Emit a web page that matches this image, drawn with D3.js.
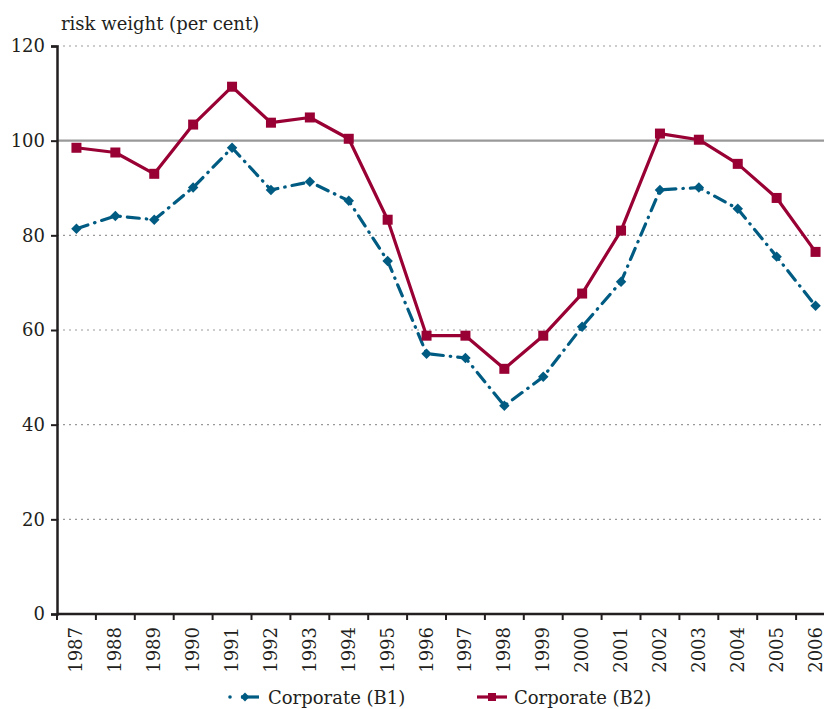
<!DOCTYPE html>
<html>
<head>
<meta charset="utf-8">
<script src="https://cdn.jsdelivr.net/npm/d3@7"></script>
<style>
  body { margin: 0; background: #fff; }
  svg { display: block; }
</style>
</head>
<body>
<svg width="824" height="709"></svg>
<script>
// data
const years = ["1987","1988","1989","1990","1991","1992","1993","1994","1995","1996",
               "1997","1998","1999","2000","2001","2002","2003","2004","2005","2006"];
const corporateB1 = [81.4, 84.1, 83.3, 90.1, 98.5, 89.6, 91.3, 87.3, 74.6, 55.0,
                     54.1, 44.0, 50.1, 60.7, 70.2, 89.6, 90.1, 85.6, 75.5, 65.1];
const corporateB2 = [98.5, 97.5, 93.0, 103.4, 111.4, 103.8, 104.9, 100.4, 83.3, 58.8,
                     58.8, 51.8, 58.8, 67.7, 81.0, 101.5, 100.2, 95.1, 87.9, 76.5];
const yTicks = [0, 20, 40, 60, 80, 100, 120];
const seriesNames = ["Corporate (B1)", "Corporate (B2)"];

const serif = "DejaVu Serif";
const fs = 18;
const svg = d3.select("svg");
const margin = {top: 46, left: 57};
const plotW = 778, plotH = 568;
const g = svg.append("g").attr("transform", "translate(" + margin.left + "," + margin.top + ")");

const x = d3.scaleBand().domain(years).range([0, plotW]);
const y = d3.scaleLinear().domain([0, 120]).range([plotH, 0]);
const cx = d => x(d) + x.bandwidth() / 2;

const ink = "#231f20";

// gridlines
g.append("g").selectAll("line")
  .data(yTicks.filter(t => t > 0))
  .enter().append("line")
    .attr("x1", 0).attr("x2", plotW)
    .attr("y1", d => y(d)).attr("y2", d => y(d))
    .attr("stroke", "#999")
    .attr("stroke-width", d => d === 100 ? 2.2 : 1.2)
    .attr("stroke-dasharray", d => d === 100 ? null : "2,4");

// y axis
const yAxis = g.append("g")
  .call(d3.axisLeft(y).tickValues(yTicks).tickSize(6).tickPadding(6));
yAxis.attr("font-family", serif);
yAxis.select(".domain").attr("stroke", ink).attr("stroke-width", 2.5);
yAxis.selectAll(".tick line").attr("stroke", ink).attr("stroke-width", 2);
yAxis.selectAll("text").attr("font-size", fs).attr("font-family", serif).attr("fill", ink);

// x axis, ticks at band edges
const xAxis = g.append("g").attr("transform", "translate(0," + plotH + ")");
xAxis.append("line").attr("x1", 0).attr("x2", plotW)
  .attr("stroke", ink).attr("stroke-width", 2.5);
xAxis.selectAll(".edge")
  .data(years)
  .enter().append("line")
    .attr("x1", d => x(d)).attr("x2", d => x(d))
    .attr("y1", 0).attr("y2", 6)
    .attr("stroke", ink).attr("stroke-width", 2);
xAxis.selectAll(".lbl")
  .data(years)
  .enter().append("text")
    .attr("transform", d => "translate(" + (cx(d) + 6) + ",13) rotate(-90)")
    .attr("text-anchor", "end")
    .attr("font-size", fs)
    .attr("font-family", serif)
    .attr("fill", ink)
    .text(d => d);

// title
svg.append("text")
  .attr("x", 61).attr("y", 30)
  .attr("font-size", fs)
  .attr("font-family", serif)
  .attr("fill", ink)
  .text("risk weight (per cent)");

const line = d3.line()
  .x((d, i) => cx(years[i]))
  .y(d => y(d));

const blue = "#005b82", red = "#990033";

// B1 series
g.append("path")
  .datum(corporateB1)
  .attr("fill", "none")
  .attr("stroke", blue)
  .attr("stroke-width", 3.2)
  .attr("stroke-linecap", "round")
  .attr("stroke-dasharray", "12,7,0.5,7")
  .attr("d", line);
g.append("g").selectAll("path")
  .data(corporateB1)
  .enter().append("path")
    .attr("d", d3.symbol(d3.symbolDiamond2, 70))
    .attr("transform", (d, i) => "translate(" + cx(years[i]) + "," + y(d) + ")")
    .attr("fill", blue);

// B2 series
g.append("path")
  .datum(corporateB2)
  .attr("fill", "none")
  .attr("stroke", red)
  .attr("stroke-width", 3.2)
  .attr("stroke-linejoin", "round")
  .attr("d", line);
g.append("g").selectAll("rect")
  .data(corporateB2)
  .enter().append("rect")
    .attr("x", (d, i) => cx(years[i]) - 5)
    .attr("y", d => y(d) - 5)
    .attr("width", 10).attr("height", 10)
    .attr("fill", red);

// legend
const legend = svg.append("g").attr("transform", "translate(0,697)");
legend.append("circle").attr("cx", 230).attr("cy", 0).attr("r", 1.8).attr("fill", blue);
legend.append("line").attr("x1", 241).attr("x2", 259).attr("y1", 0).attr("y2", 0)
  .attr("stroke", blue).attr("stroke-width", 3.2);
legend.append("path").attr("d", d3.symbol(d3.symbolDiamond2, 50))
  .attr("transform", "translate(245,0)").attr("fill", blue);
legend.append("text").attr("x", 268).attr("y", 7).attr("font-size", fs)
  .attr("font-family", serif).attr("fill", ink)
  .text(seriesNames[0]);

legend.append("line").attr("x1", 477).attr("x2", 507).attr("y1", 0).attr("y2", 0)
  .attr("stroke", red).attr("stroke-width", 3.2);
legend.append("rect").attr("x", 488).attr("y", -4).attr("width", 8).attr("height", 8).attr("fill", red);
legend.append("text").attr("x", 514).attr("y", 7).attr("font-size", fs)
  .attr("font-family", serif).attr("fill", ink)
  .text(seriesNames[1]);
</script>
</body>
</html>
